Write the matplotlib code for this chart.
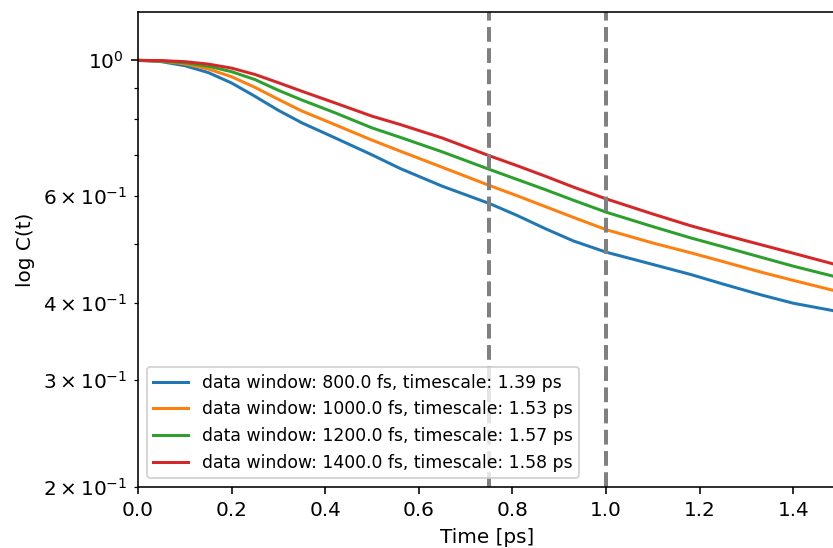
import matplotlib
matplotlib.use("Agg")
import matplotlib.pyplot as plt

# time axis in ps
time = [0.0, 0.05, 0.1, 0.15, 0.2, 0.25, 0.3, 0.35, 0.42, 0.5, 0.56, 0.65, 0.75,
        0.81, 0.87, 0.93, 1.0, 1.1, 1.18, 1.25, 1.33, 1.4, 1.485]

# normalised correlation C(t) for each data window
c_800 = [1.0, 0.995, 0.98, 0.955, 0.918, 0.873, 0.828, 0.79, 0.747, 0.70, 0.665,
         0.622, 0.583, 0.557, 0.53, 0.506, 0.485, 0.463, 0.446, 0.43, 0.413, 0.40, 0.389]
c_1000 = [1.0, 0.997, 0.987, 0.968, 0.94, 0.903, 0.863, 0.826, 0.785, 0.74, 0.71,
          0.668, 0.624, 0.6, 0.576, 0.553, 0.528, 0.502, 0.484, 0.468, 0.45, 0.436, 0.42]
c_1200 = [1.0, 0.998, 0.991, 0.978, 0.958, 0.93, 0.893, 0.861, 0.821, 0.775, 0.748,
          0.708, 0.663, 0.638, 0.614, 0.59, 0.564, 0.534, 0.512, 0.495, 0.476, 0.46, 0.443]
c_1400 = [1.0, 0.999, 0.995, 0.986, 0.971, 0.948, 0.919, 0.89, 0.852, 0.81, 0.785,
          0.746, 0.698, 0.672, 0.646, 0.62, 0.593, 0.56, 0.536, 0.518, 0.499, 0.483, 0.464]

windows = [800.0, 1000.0, 1200.0, 1400.0]
timescales = [1.39, 1.53, 1.57, 1.58]
series = [c_800, c_1000, c_1200, c_1400]

# marked times
vlines = [0.75, 1.0]

fig = plt.figure(figsize=(833 / 144, 548 / 144), dpi=144)
ax = fig.add_axes([138 / 833, 1 - 487 / 548, (835.5 - 138) / 833, (487 - 12) / 548])

for w, ts, c in zip(windows, timescales, series):
    ax.plot(time, c, label="data window: %.1f fs, timescale: %.2f ps" % (w, ts))

for v in vlines:
    ax.axvline(v, color="gray", linestyle="--", linewidth=2)

ax.set_yscale("log")
ax.set_ylim(0.2, 1.2)
ax.set_xlim(0, 1.49)
ax.set_xlabel("Time [ps]")
ax.set_ylabel("log C(t)")
ax.legend(loc="lower left", fontsize=8.6)

fig.savefig("out.png", dpi=144)
